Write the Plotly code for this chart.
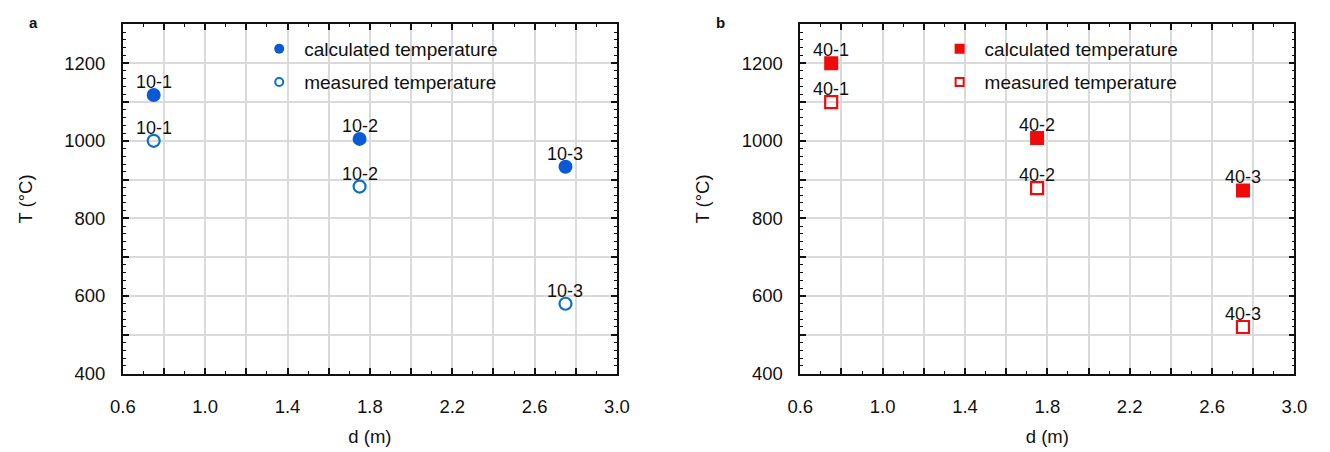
import plotly.graph_objects as go

# Distance from the heat source and temperatures at the three probes
depth_m = [0.75, 1.75, 2.75]

calc_a = [1118, 1005, 933]
meas_a = [1000, 882, 580]
labels_a = ["10-1", "10-2", "10-3"]

calc_b = [1200, 1007, 872]
meas_b = [1100, 878, 520]
labels_b = ["40-1", "40-2", "40-3"]

# Axis ticks: gridlines every 0.2 m / 100 °C, labels every other one
x_tickvals = [0.6, 0.8, 1.0, 1.2, 1.4, 1.6, 1.8, 2.0, 2.2, 2.4, 2.6, 2.8, 3.0]
x_ticktext = ["0.6", "", "1.0", "", "1.4", "", "1.8", "", "2.2", "", "2.6", "", "3.0"]
y_tickvals = [400, 500, 600, 700, 800, 900, 1000, 1100, 1200, 1300]
y_ticktext = ["400", "", "600", "", "800", "", "1000", "", "1200", ""]

FONT = "Liberation Sans, Arial, sans-serif"
INK = "#111111"
BLUE_FILL = "#0a5ad6"
BLUE_LINE = "#0b70c6"
RED = "#f00a0a"

fig = go.Figure()

panels = [
    dict(xa="x", ya="y", calc=calc_a, meas=meas_a, labels=labels_a,
         sym=("circle", "circle-open"), fill=BLUE_FILL, line=BLUE_LINE,
         legends=("legend", "legend2")),
    dict(xa="x2", ya="y2", calc=calc_b, meas=meas_b, labels=labels_b,
         sym=("square", "square-open"), fill=RED, line=RED,
         legends=("legend3", "legend4")),
]

for p in panels:
    fig.add_trace(go.Scatter(
        x=depth_m, y=p["calc"], mode="markers", xaxis=p["xa"], yaxis=p["ya"],
        marker=dict(symbol=p["sym"][0], size=14, color=p["fill"]),
        showlegend=False, hoverinfo="x+y"))
    fig.add_trace(go.Scatter(
        x=depth_m, y=p["meas"], mode="markers", xaxis=p["xa"], yaxis=p["ya"],
        marker=dict(symbol=p["sym"][1], size=12, color=p["line"],
                    line=dict(width=2.2, color=p["line"])),
        showlegend=False, hoverinfo="x+y"))
    # legend entries with the smaller key symbols
    fig.add_trace(go.Scatter(
        x=[None], y=[None], mode="markers", xaxis=p["xa"], yaxis=p["ya"],
        marker=dict(symbol=p["sym"][0], size=10, color=p["fill"]),
        name="calculated temperature", legend=p["legends"][0]))
    fig.add_trace(go.Scatter(
        x=[None], y=[None], mode="markers", xaxis=p["xa"], yaxis=p["ya"],
        marker=dict(symbol=p["sym"][1], size=8, color=p["line"],
                    line=dict(width=2, color=p["line"])),
        name="measured temperature", legend=p["legends"][1]))

    # sample labels just above each marker
    for xs, ys in ((depth_m, p["calc"]), (depth_m, p["meas"])):
        for xv, yv, lab in zip(xs, ys, p["labels"]):
            fig.add_annotation(x=xv, y=yv, xref=p["xa"], yref=p["ya"],
                               text=lab, showarrow=False, yshift=13,
                               font=dict(size=18, color=INK, family=FONT))

W, H = 1330, 452
xdom_a = [112 / W, 616 / W]
xdom_b = [803 / W, 1307 / W]
ydom = [1 - 382 / H, 1 - 25 / H]

axis_common = dict(
    showline=True, linecolor=INK, linewidth=1.5, mirror="allticks",
    ticks="inside", ticklen=6, tickwidth=1.5, tickcolor=INK,
    showgrid=True, gridcolor="#dadada", gridwidth=1.7, zeroline=False,
    tickfont=dict(size=18.5, color=INK, family=FONT),
)

xaxis_common = dict(
    axis_common, range=[0.6, 3.0], tickmode="array",
    tickvals=x_tickvals, ticktext=x_ticktext, ticklabelstandoff=16,
    minor=dict(tick0=0.6, dtick=0.1, ticks="inside", ticklen=3,
               tickwidth=1.2, tickcolor=INK, showgrid=False),
    title=dict(text="d (m)", standoff=14,
               font=dict(size=18.5, color=INK, family=FONT)),
)
yaxis_common = dict(
    axis_common, range=[400, 1300], tickmode="array",
    tickvals=y_tickvals, ticktext=y_ticktext, ticklabelstandoff=12,
    minor=dict(tick0=400, dtick=20, ticks="inside", ticklen=3,
               tickwidth=1.2, tickcolor=INK, showgrid=False),
    title=dict(text="T (°C)", standoff=27,
               font=dict(size=18.5, color=INK, family=FONT)),
)

legend_common = dict(
    bgcolor="rgba(0,0,0,0)", borderwidth=0, xanchor="left", yanchor="middle",
    font=dict(size=19, color=INK, family=FONT), itemwidth=40,
)

fig.update_layout(
    width=W, height=H,
    margin=dict(l=0, r=0, t=0, b=0),
    paper_bgcolor="white", plot_bgcolor="white",
    font=dict(family=FONT, color=INK),
    xaxis=dict(xaxis_common, domain=xdom_a, anchor="y"),
    yaxis=dict(yaxis_common, domain=ydom, anchor="x"),
    xaxis2=dict(xaxis_common, domain=xdom_b, anchor="y2"),
    yaxis2=dict(yaxis_common, domain=ydom, anchor="x2"),
    legend=dict(legend_common, x=246 / W, y=1 - 50 / H),
    legend2=dict(legend_common, x=246 / W, y=1 - 84 / H),
    legend3=dict(legend_common, x=940 / W, y=1 - 50 / H),
    legend4=dict(legend_common, x=940 / W, y=1 - 84 / H),
    showlegend=True,
)

# panel letters
for letter, px in (("a", 21), ("b", 722)):
    fig.add_annotation(text=f"<b>{letter}</b>", x=px / W, y=1 - 23 / H,
                       xref="paper", yref="paper", showarrow=False,
                       xanchor="center", yanchor="middle",
                       font=dict(size=15, color=INK, family=FONT))

fig.write_html("out.html")
